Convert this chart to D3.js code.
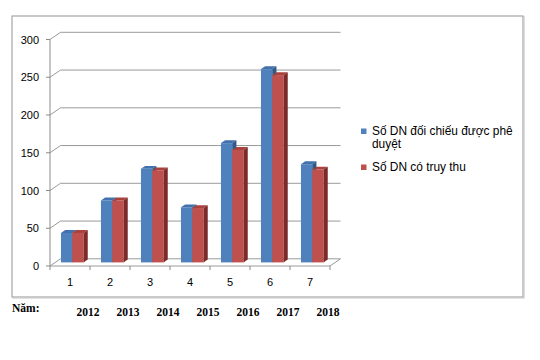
<!DOCTYPE html>
<html><head><meta charset="utf-8">
<script src="https://cdn.jsdelivr.net/npm/d3@7"></script>
<style>body{margin:0;background:#fff}svg{display:block}</style>
</head><body>
<svg id="c" width="540" height="360"></svg>
<script>
const categories = ["1","2","3","4","5","6","7"];
const years = ["2012","2013","2014","2015","2016","2017","2018"];
const seriesNames = ["Số DN đối chiếu được phê duyệt", "Số DN có truy thu"];
const seriesA = [39, 82, 124, 73, 158, 256, 130];
const seriesB = [39, 82, 122, 72, 149, 248, 123];
const yTicks = [0, 50, 100, 150, 200, 250, 300];

const svg = d3.select("#c");
const x = d3.scaleBand().domain(categories).range([50, 330]);
const y = d3.scaleLinear().domain([0, 300]).range([266, 39.5]);
const DX = 10.5, DY = -7.2;
const off = d => [DX * d, DY * d];

const palette = [
  {front: "#4f81bd", top: "#4272ad", side: "#2f5987"},
  {front: "#c0504d", top: "#a9423f", side: "#7d2b29"}
];

// frame
svg.append("rect").attr("x", 12).attr("y", 16).attr("width", 511).attr("height", 281)
  .attr("fill", "none").attr("stroke", "#a6a6a6").attr("stroke-width", 1.2);
svg.append("path").attr("d", "M524,16 V298 H12").attr("fill", "none").attr("stroke", "#c8c8c8").attr("stroke-width", 1.2);

// gridlines (back wall + left wall diagonal)
const g = svg.append("g");
yTicks.forEach(t => {
  const yf = y(t), [bx, by] = off(1);
  g.append("path").attr("d", `M50,${yf} L${50 + bx},${yf + by} H${330 + bx}`)
    .attr("fill", "none").attr("stroke", "#9a9a9a").attr("stroke-width", 1);
});
// floor front & right edge
{
  const [bx, by] = off(1);
  g.append("path").attr("d", `M50,${y(0)} H330 L${330 + bx},${y(0) + by}`)
    .attr("fill", "none").attr("stroke", "#9a9a9a").attr("stroke-width", 1);
}
// y axis line
g.append("line").attr("x1", 50).attr("x2", 50).attr("y1", y(300)).attr("y2", y(0))
  .attr("stroke", "#8a8a8a");
// y ticks
yTicks.forEach(t => {
  g.append("line").attr("x1", 46).attr("x2", 50).attr("y1", y(t)).attr("y2", y(t)).attr("stroke", "#8a8a8a");
  g.append("text").attr("x", 39).attr("y", y(t) + 4).attr("text-anchor", "end")
    .attr("font-family", "Liberation Sans, Arial, sans-serif").attr("font-size", 11).attr("fill", "#000").text(t);
});
// x ticks
const bounds = categories.map(c => x(c)).concat([x(categories[categories.length - 1]) + x.bandwidth()]);
bounds.forEach(b => {
  g.append("line").attr("x1", b).attr("x2", b).attr("y1", y(0)).attr("y2", y(0) + 4).attr("stroke", "#8a8a8a");
});
categories.forEach(c => {
  g.append("text").attr("x", x(c) + x.bandwidth() / 2).attr("y", 286).attr("text-anchor", "middle")
    .attr("font-family", "Liberation Sans, Arial, sans-serif").attr("font-size", 11).attr("fill", "#000").text(c);
});

// bars
const bw = x.bandwidth();
const barW = 11.3;
const x1 = d3.scaleBand().domain([0, 1]).range([bw / 2 - barW - 3, bw / 2 + barW - 3]);
const [fdx, fdy] = off(0.5);
const [ddx, ddy] = [DX * 0.4, DY * 0.4];
const bars = svg.append("g");
categories.forEach((c, i) => {
  [seriesA[i], seriesB[i]].forEach((v, s) => {
    const xl = x(c) + x1(s) + fdx, xr = xl + x1.bandwidth();
    const yt = y(v) + fdy, yb = y(0) + fdy;
    const col = palette[s];
    bars.append("rect").attr("x", xl).attr("y", yt).attr("width", xr - xl).attr("height", yb - yt).attr("fill", col.front);
    bars.append("path").attr("d", `M${xl},${yt} L${xr},${yt} L${xr + ddx},${yt + ddy} L${xl + ddx},${yt + ddy}Z`).attr("fill", col.top);
    bars.append("path").attr("d", `M${xr},${yt} L${xr},${yb} L${xr + ddx},${yb + ddy} L${xr + ddx},${yt + ddy}Z`).attr("fill", col.side);
  });
});

// legend
const lg = svg.append("g").attr("font-family", "Liberation Sans, Arial, sans-serif").attr("font-size", 11.9).attr("fill", "#000");
lg.append("rect").attr("x", 361).attr("y", 128.5).attr("width", 5.5).attr("height", 5.5).attr("fill", palette[0].front);
const t1 = lg.append("text").attr("x", 372).attr("y", 134.5);
t1.append("tspan").attr("x", 372).text("Số DN đối chiếu được phê");
t1.append("tspan").attr("x", 372).attr("dy", 13).text("duyệt");
lg.append("rect").attr("x", 361).attr("y", 164.5).attr("width", 5.5).attr("height", 5.5).attr("fill", palette[1].front);
lg.append("text").attr("x", 372).attr("y", 171).text(seriesNames[1]);

// year row
const yr = svg.append("g").attr("font-family", "Liberation Serif, Times New Roman, serif").attr("font-weight", "bold").attr("font-size", 11.5).attr("fill", "#000");
yr.append("text").attr("x", 12).attr("y", 311.5).text("Năm:");
years.forEach((t, i) => {
  yr.append("text").attr("x", x(categories[i]) + bw / 2 + 18).attr("y", 316).attr("text-anchor", "middle").text(t);
});
</script>
</body></html>
